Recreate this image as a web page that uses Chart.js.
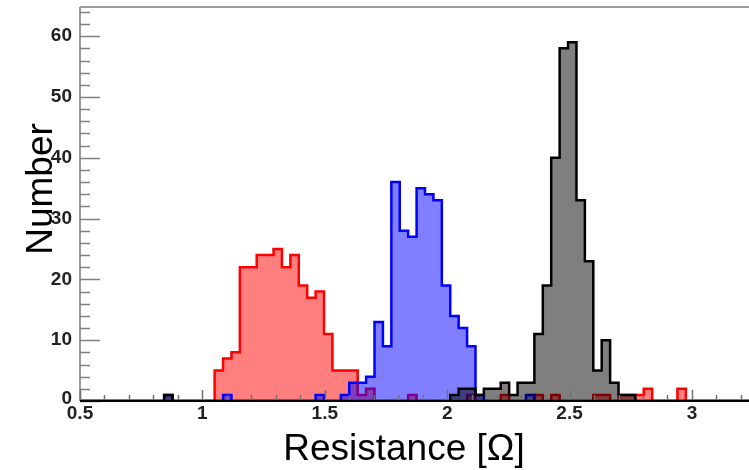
<!DOCTYPE html>
<html>
<head>
<meta charset="utf-8">
<script src="https://cdn.jsdelivr.net/npm/chart.js@4/dist/chart.umd.min.js"></script>
<style>
  html, body { margin: 0; padding: 0; background: #fff; }
  canvas { display: block; }
</style>
</head>
<body>
<canvas id="chart" width="749" height="470"></canvas>
<script>
// histogram binning: 80 bins from 0.5 to 3.25
const binStart = 0.5
const binWidth = 0.034375

// counts per bin
const redCounts = [
  0, 0, 0, 0, 0, 0, 0, 0, 0, 0,
  0, 0, 0, 0, 0, 0, 5, 7, 8, 22,
  22, 24, 24, 25, 22, 24, 19, 17, 18, 11,
  5, 5, 5, 1, 2, 0, 0, 0, 0, 1,
  0, 0, 0, 0, 0, 0, 1, 0, 0, 0,
  1, 0, 0, 0, 1, 0, 1, 0, 0, 0,
  0, 1, 1, 0, 1, 1, 1, 2, 0, 0,
  0, 2, 0, 0, 0, 0, 0, 0, 0, 0
]
const blueCounts = [
  0, 0, 0, 0, 0, 0, 0, 0, 0, 0,
  1, 0, 0, 0, 0, 0, 0, 1, 0, 0,
  0, 0, 0, 0, 0, 0, 0, 0, 1, 0,
  0, 1, 3, 3, 4, 13, 9, 36, 28, 27,
  35, 34, 33, 19, 14, 12, 9, 1, 0, 0,
  0, 0, 0, 1, 0, 0, 0, 0, 0, 0,
  0, 0, 0, 0, 0, 0, 0, 0, 0, 0,
  0, 0, 0, 0, 0, 0, 0, 0, 0, 0
]
const blackCounts = [
  0, 0, 0, 0, 0, 0, 0, 0, 0, 0,
  1, 0, 0, 0, 0, 0, 0, 0, 0, 0,
  0, 0, 0, 0, 0, 0, 0, 0, 0, 0,
  0, 0, 0, 0, 0, 0, 0, 0, 0, 0,
  0, 0, 0, 0, 1, 2, 2, 1, 2, 2,
  3, 1, 3, 3, 11, 19, 40, 58, 59, 33,
  23, 5, 10, 3, 1, 1, 0, 0, 0, 0,
  0, 0, 0, 0, 0, 0, 0, 0, 0, 0
]

const xTickLabels = [0.5, 1, 1.5, 2, 2.5, 3]
const yTickLabels = [0, 10, 20, 30, 40, 50, 60]
const xMinorStep = 0.1
const yMinorStep = 2

const xTitle = 'Resistance [Ω]'
const yTitle = 'Number'

// turn bin counts into stepped outline points (left edges + closing edge)
function histPoints(counts) {
  var pts = [{x: binStart, y: 0}]
  counts.forEach(function(c, i) {
    pts.push({x: binStart + i * binWidth, y: c})
  })
  pts.push({x: binStart + counts.length * binWidth, y: 0})
  return pts
}

function histSet(counts, line, fill, order) {
  return {
    data: histPoints(counts),
    borderColor: line,
    backgroundColor: fill,
    borderWidth: 2.5,
    stepped: true,
    fill: 'origin',
    pointRadius: 0,
    tension: 0,
    order: order
  }
}

// ROOT-like frame, inward ticks and labels, drawn on top of the histograms
const frame = {
  id: 'frame',
  afterDatasetsDraw(chart) {
    const ctx = chart.ctx
    const ca = chart.chartArea
    const xs = chart.scales.x
    const ys = chart.scales.y
    ctx.save()

    ctx.strokeStyle = '#9a9a9a'
    ctx.lineWidth = 2
    ctx.beginPath()
    ctx.moveTo(ca.left, ca.top)
    ctx.lineTo(ca.right, ca.top)
    ctx.moveTo(ca.left, ca.top)
    ctx.lineTo(ca.left, ca.bottom)
    ctx.stroke()

    // y ticks
    ctx.strokeStyle = '#808080'
    ctx.lineWidth = 1.5
    ctx.beginPath()
    for (var v = 0; v <= ys.max; v += yMinorStep) {
      var py = Math.round(ys.getPixelForValue(v)) + 0.5
      var len = v % 10 === 0 ? 20 : 10
      ctx.moveTo(ca.left, py)
      ctx.lineTo(ca.left + len, py)
    }
    ctx.stroke()

    // x ticks
    ctx.strokeStyle = '#707070'
    ctx.beginPath()
    for (var i = 0; binStart + i * xMinorStep <= xs.max; i++) {
      var px = Math.round(xs.getPixelForValue(binStart + i * xMinorStep)) + 0.5
      var l = i % 5 === 0 ? 11 : 6
      ctx.moveTo(px, ca.bottom)
      ctx.lineTo(px, ca.bottom - l)
    }
    ctx.stroke()

    // x axis line
    ctx.strokeStyle = '#000'
    ctx.lineWidth = 2
    ctx.beginPath()
    ctx.moveTo(ca.left, ca.bottom)
    ctx.lineTo(ca.right, ca.bottom)
    ctx.stroke()

    // tick labels
    ctx.fillStyle = '#222'
    ctx.font = 'bold 19px "Liberation Sans", Arial, sans-serif'
    ctx.textAlign = 'right'
    ctx.textBaseline = 'middle'
    yTickLabels.forEach(function(t) {
      ctx.fillText(String(t), 72, ys.getPixelForValue(t) - (t === 0 ? 2 : 0))
    })
    ctx.textAlign = 'center'
    ctx.textBaseline = 'top'
    xTickLabels.forEach(function(t) {
      ctx.fillText(String(t), xs.getPixelForValue(t), ca.bottom + 3)
    })

    // axis titles
    ctx.fillStyle = '#000'
    ctx.font = '37px "Liberation Sans", Arial, sans-serif'
    ctx.textAlign = 'center'
    ctx.textBaseline = 'alphabetic'
    ctx.fillText(xTitle, 404, 460)
    ctx.translate(52, 189)
    ctx.rotate(-Math.PI / 2)
    ctx.fillText(yTitle, 0, 0)

    ctx.restore()
  }
}

const ctx = document.getElementById('chart').getContext('2d')
new Chart(ctx, {
  type: 'line',
  data: {
    datasets: [
      histSet(redCounts, '#ff0000', 'rgba(255,0,0,0.5)', 3),
      histSet(blueCounts, '#0000ff', 'rgba(0,0,255,0.5)', 2),
      histSet(blackCounts, '#000000', 'rgba(0,0,0,0.5)', 1)
    ]
  },
  options: {
    responsive: false,
    animation: false,
    devicePixelRatio: 1,
    layout: { padding: { left: 80, right: 0, top: 7, bottom: 69 } },
    plugins: { legend: { display: false }, tooltip: { enabled: false } },
    scales: {
      x: { type: 'linear', min: 0.5, max: 3.233, display: false },
      y: { type: 'linear', min: 0, max: 64.8, display: false }
    }
  },
  plugins: [frame]
})
</script>
</body>
</html>
